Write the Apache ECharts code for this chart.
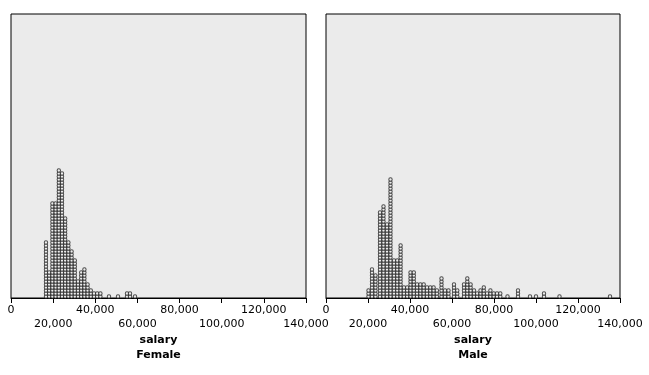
<!DOCTYPE html>
<html>
<head>
<meta charset="utf-8">
<script src="https://cdn.jsdelivr.net/npm/echarts@6/dist/echarts.min.js"></script>
<style>
html,body{margin:0;padding:0;background:#fff;}
#chart{width:649px;height:375px;}
</style>
</head>
<body>
<div id="chart"></div>
<script>
// Dot plot of salary by gender: each column = salary bin, count = number of stacked dots
const femaleSalary = [16600, 18100, 19650, 21170, 22690, 24200, 25720, 27240, 28760, 30280, 31800, 33320, 34840, 36350, 37870, 39390, 40910, 42430, 46500, 50780, 55050, 56480, 58850];
const femaleCount  = [19, 9, 32, 32, 43, 42, 27, 19, 16, 13, 6, 9, 10, 5, 3, 2, 2, 2, 1, 1, 2, 2, 1];

const maleSalary = [20240, 21900, 23570, 25710, 27380, 29050, 30710, 32380, 33950, 35520, 37100, 38670, 40240, 41810, 43380, 44950, 46520, 48100, 49670, 51240, 52810, 55000, 56670, 58330, 60950, 62520, 65710, 67290, 68860, 70480, 72000, 73570, 75140, 76710, 78290, 79860, 81430, 83000, 86430, 91430, 97140, 100000, 103810, 111190, 135240];
const maleCount  = [3, 10, 8, 29, 31, 25, 40, 13, 13, 18, 4, 4, 9, 9, 5, 5, 5, 4, 4, 4, 3, 7, 3, 3, 5, 3, 5, 7, 5, 3, 2, 3, 4, 2, 3, 2, 2, 2, 1, 3, 1, 1, 2, 1, 1];

const tickValues = [0, 20000, 40000, 60000, 80000, 100000, 120000, 140000];
const tickLabels = ['0', '20,000', '40,000', '60,000', '80,000', '100,000', '120,000', '140,000'];
const panelTitles = ['Female', 'Male'];
const axisTitle = 'salary';

function dots(sal, cnt) {
  const out = [];
  sal.forEach((s, k) => {
    for (let i = 0; i < cnt[k]; i++) out.push([s, i + 0.5]);
  });
  return out;
}

const FONT = 'DejaVu Sans';
const TOP = 14, H = 284;
const grids = [
  {left: 11, width: 295, top: TOP, height: H},
  {left: 326, width: 294, top: TOP, height: H}
].map(g => Object.assign(g, {show: true, backgroundColor: '#EBEBEB', borderColor: '#000', borderWidth: 1}));

function xAxis(idx) {
  return {
    type: 'value', gridIndex: idx, min: 0, max: 140000, interval: 20000, position: 'bottom',
    splitLine: {show: false},
    axisLine: {show: true, onZero: false, lineStyle: {color: '#000', width: 1}},
    axisTick: {show: true, length: 5, lineStyle: {color: '#000'}},
    axisLabel: {show: false},
    name: axisTitle + '\n' + panelTitles[idx],
    nameLocation: 'middle', nameGap: 35, nameMoveOverlap: false,
    nameTextStyle: {fontSize: 11, fontWeight: 'bold', lineHeight: 15, color: '#000', fontFamily: FONT}
  };
}
function yAxis(idx) {
  return {type: 'value', gridIndex: idx, min: 0, max: H / 3, show: false, splitLine: {show: false}};
}

const dotStyle = {color: '#EDEDED', borderColor: '#222', borderWidth: 1};

const chart = echarts.init(document.getElementById('chart'), null, {renderer: 'canvas'});
chart.setOption({
  animation: false,
  backgroundColor: '#fff',
  grid: grids,
  xAxis: [xAxis(0), xAxis(1)],
  yAxis: [yAxis(0), yAxis(1)],
  series: [
    {type: 'scatter', xAxisIndex: 0, yAxisIndex: 0, symbol: 'circle', symbolSize: 3.4, itemStyle: dotStyle, silent: true, data: dots(femaleSalary, femaleCount)},
    {type: 'scatter', xAxisIndex: 1, yAxisIndex: 1, symbol: 'circle', symbolSize: 3.4, itemStyle: dotStyle, silent: true, data: dots(maleSalary, maleCount)}
  ]
});

// Tick labels staggered on two rows, positioned through each axis's own scale
const labelEls = [];
[0, 1].forEach(ax => {
  const axisY = chart.convertToPixel({xAxisIndex: ax, yAxisIndex: ax}, [0, 0])[1];
  tickValues.forEach((v, i) => {
    const x = chart.convertToPixel({xAxisIndex: ax}, v);
    labelEls.push({
      type: 'text', silent: true,
      style: {
        text: tickLabels[i], x: x, y: axisY + 7 + (i % 2) * 14,
        align: 'center', verticalAlign: 'top',
        fill: '#000', font: '11px "DejaVu Sans"'
      }
    });
  });
});
chart.setOption({graphic: labelEls});
</script>
</body>
</html>
